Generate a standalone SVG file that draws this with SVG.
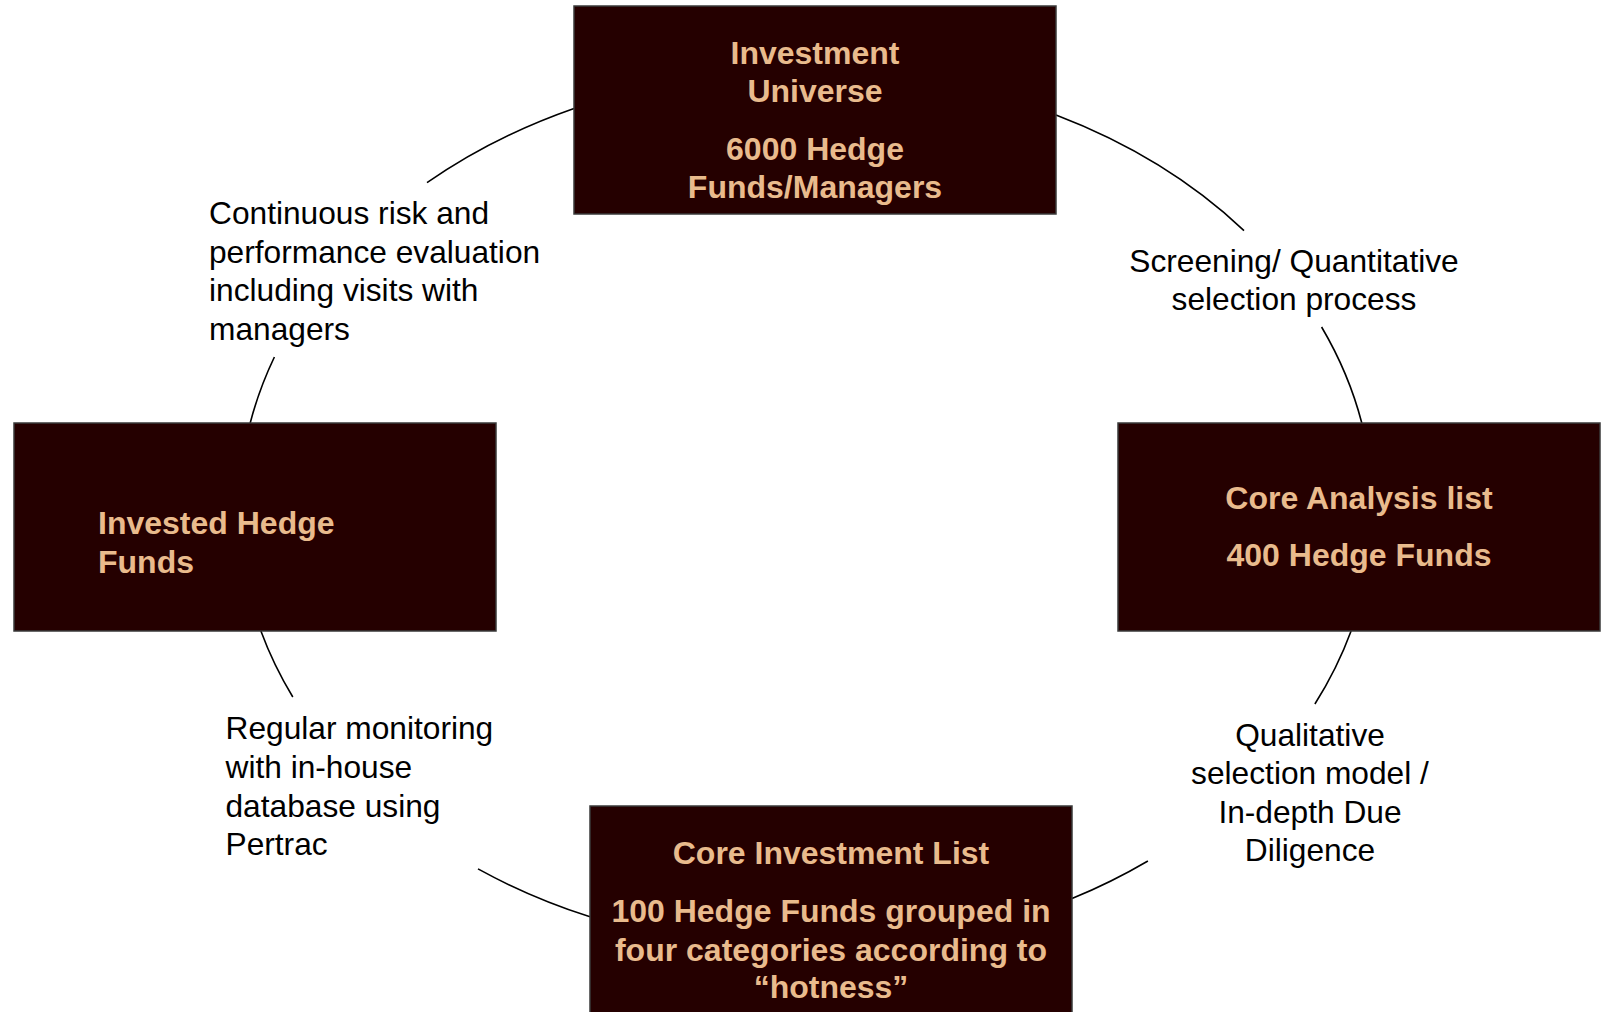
<svg xmlns="http://www.w3.org/2000/svg" width="1603" height="1012" viewBox="0 0 1603 1012">
<style>
.box{fill:#250000;stroke:#3a3a3a;stroke-width:1.5}
.bt{font-family:"Liberation Sans",Arial,sans-serif;font-size:32px;font-weight:bold;fill:#E9BB8D}
.lt{font-family:"Liberation Sans",Arial,sans-serif;font-size:31.7px;fill:#000}
.c{text-anchor:middle}
.arc{fill:none;stroke:#000;stroke-width:1.6}
</style>
<rect width="1603" height="1012" fill="#fff"/>
<g id="connectors">
<path class="arc" d="M1056,115.1 A567,440 0 0 1 1244,230.6"/>
<path class="arc" d="M1321.6,327 A567,440 0 0 1 1361.8,423"/>
<path class="arc" d="M1351.1,631 A567,440 0 0 1 1314.9,704"/>
<path class="arc" d="M1147.9,861 A567,440 0 0 1 1072,898.6"/>
<path class="arc" d="M590,916.8 A567,440 0 0 1 478,868.9"/>
<path class="arc" d="M292.8,697 A567,440 0 0 1 260.9,631"/>
<path class="arc" d="M250.2,423 A567,440 0 0 1 274.4,357"/>
<path class="arc" d="M427,182.7 A567,440 0 0 1 574,108.5"/>
</g>
<g id="investment-universe">
<rect class="box" x="574" y="6" width="482" height="208"/>
<text class="bt c" x="815" y="64">Investment</text>
<text class="bt c" x="815" y="101.5">Universe</text>
<text class="bt c" x="815" y="160">6000 Hedge</text>
<text class="bt c" x="815" y="198">Funds/Managers</text>
</g>
<g id="core-analysis-list">
<rect class="box" x="1118" y="423" width="482" height="208"/>
<text class="bt c" x="1359" y="509">Core Analysis list</text>
<text class="bt c" x="1359" y="566">400 Hedge Funds</text>
</g>
<g id="core-investment-list">
<rect class="box" x="590" y="806" width="482" height="210"/>
<text class="bt c" x="831" y="864">Core Investment List</text>
<text class="bt c" x="831" y="922">100 Hedge Funds grouped in</text>
<text class="bt c" x="831" y="960.5">four categories according to</text>
<text class="bt c" x="831" y="998">“hotness”</text>
</g>
<g id="invested-hedge-funds">
<rect class="box" x="14" y="423" width="482" height="208"/>
<text class="bt" x="98" y="534">Invested Hedge</text>
<text class="bt" x="98" y="573">Funds</text>
</g>
<g id="label-screening">
<text class="lt c" x="1294" y="272">Screening/ Quantitative</text>
<text class="lt c" x="1294" y="310">selection process</text>
</g>
<g id="label-qualitative">
<text class="lt c" x="1310" y="746">Qualitative</text>
<text class="lt c" x="1310" y="784">selection model /</text>
<text class="lt c" x="1310" y="823">In-depth Due</text>
<text class="lt c" x="1310" y="861">Diligence</text>
</g>
<g id="label-regular">
<text class="lt" x="225.5" y="739">Regular monitoring</text>
<text class="lt" x="225.5" y="778">with in-house</text>
<text class="lt" x="225.5" y="816.5">database using</text>
<text class="lt" x="225.5" y="855">Pertrac</text>
</g>
<g id="label-continuous">
<text class="lt" x="209" y="224">Continuous risk and</text>
<text class="lt" x="209" y="262.5">performance evaluation</text>
<text class="lt" x="209" y="301">including visits with</text>
<text class="lt" x="209" y="339.5">managers</text>
</g>
</svg>
